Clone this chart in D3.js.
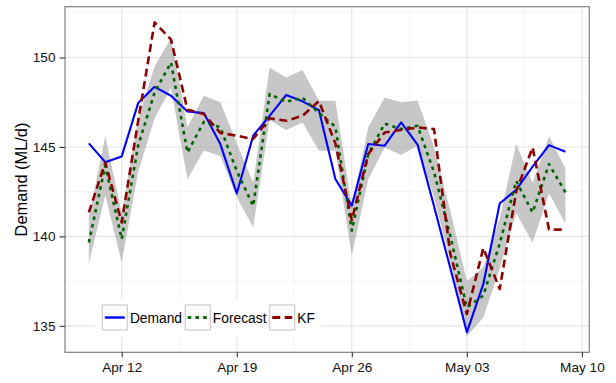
<!DOCTYPE html>
<html>
<head>
<meta charset="utf-8">
<script src="https://cdn.jsdelivr.net/npm/d3@7"></script>
<style>
  html, body { margin: 0; padding: 0; background: #fff; }
  svg { display: block; font-family: "Liberation Sans", Arial, Helvetica, sans-serif; }
</style>
</head>
<body>
<svg id="chart" width="616" height="383"></svg>
<script>
// Daily water demand (ML/d), 10 Apr – 9 May
const startDay = "2013-04-10";
const endDay = "2013-05-10"; // exclusive

const demand = [145.2, 144.15, 144.47, 147.45, 148.36, 147.86, 146.98, 146.89, 145.16, 142.4,
  145.63, 146.74, 147.9, 147.55, 147.06, 143.21, 141.72, 145.16, 145.07, 146.37,
  145.13, 141.7, 138.2, 134.64, 137.33, 141.84, 142.6, 143.9, 145.1, 144.73];

const forecast = [139.66, 143.95, 139.85, 145.07, 148.04, 149.72, 144.69, 146.4, 146.1, 143.66,
  141.7, 147.96, 147.52, 147.75, 146.9, 146.13, 140.32, 144.6, 146.3, 146.0,
  146.18, 143.6, 140.0, 136.03, 136.69, 139.6, 143.1, 141.34, 144.04, 142.46];

const forecastUpper = [141.0, 145.62, 141.3, 146.6, 149.5, 151.1, 146.1, 147.86, 147.5, 145.2,
  143.0, 149.44, 148.88, 149.3, 147.58, 147.58, 141.7, 146.1, 147.77, 147.5,
  147.6, 145.0, 141.4, 137.5, 138.27, 141.0, 145.16, 143.0, 145.6, 143.8];

const forecastLower = [138.49, 142.3, 138.55, 143.6, 146.6, 148.3, 143.2, 144.8, 144.5, 142.2,
  140.5, 146.5, 145.94, 146.37, 144.79, 144.79, 138.92, 143.2, 144.97, 144.55,
  145.07, 142.2, 138.6, 134.4, 135.47, 138.2, 141.3, 139.66, 142.4, 140.7];

const kf = [141.34, 144.13, 140.78, 146.45, 151.96, 151.0, 147.08, 146.84, 145.78, 145.63,
  145.44, 146.6, 146.46, 146.74, 147.56, 145.2, 140.9, 144.6, 145.81, 145.95,
  146.09, 146.0, 139.0, 135.66, 139.35, 137.06, 142.5, 144.97, 140.38, 140.38];

const yTicks = [135, 140, 145, 150];
const yMinor = [137.5, 142.5, 147.5, 152.5];
const xTickDays = ["2013-04-12", "2013-04-19", "2013-04-26", "2013-05-03", "2013-05-10"];
const xMinorDays = ["2013-04-15T12:00", "2013-04-22T12:00", "2013-04-29T12:00", "2013-05-06T12:00"];

const seriesNames = ["Demand", "Forecast", "KF"];
const seriesColors = ["#0000ff", "#006400", "#8b0000"];
const seriesDash = [null, "3.5,4.2", "8,4.5"];
const seriesWidth = [2.1, 2.6, 2.6];

const parseDay = s => new Date(s + (s.length === 10 ? "T00:00Z" : "Z"));
const days = d3.utcDay.range(parseDay(startDay), parseDay(endDay));

const rows = days.map((d, i) => ({
  date: d,
  demand: demand[i],
  forecast: forecast[i],
  upper: forecastUpper[i],
  lower: forecastLower[i],
  kf: kf[i]
}));

const W = 616, H = 383;
const margin = { left: 65, top: 6.7, right: 26.7, bottom: 30.7 };
const iw = W - margin.left - margin.right;
const ih = H - margin.top - margin.bottom;

const svg = d3.select("#chart");
const g = svg.append("g").attr("transform", `translate(${margin.left},${margin.top})`);

// 5% padding on each side of the data range
function padded(lo, hi) {
  const p = (hi - lo) * 0.05;
  return [lo - p, hi + p];
}
const t0 = days[0].getTime(), t1 = days[days.length - 1].getTime();
const xDom = padded(t0, t1).map(t => new Date(t));
const allY = demand.concat(forecast, forecastUpper, forecastLower, kf);
const yDom = padded(d3.min(allY), d3.max(allY));

const x = d3.scaleUtc().domain(xDom).range([0, iw]);
const y = d3.scaleLinear().domain(yDom).range([ih, 0]);

// panel background + grid
g.append("rect").attr("width", iw).attr("height", ih).attr("fill", "#fff");

const grid = g.append("g");
grid.selectAll(".ymin").data(yMinor.filter(v => v > yDom[0] && v < yDom[1])).join("line")
  .attr("x1", 0).attr("x2", iw).attr("y1", d => y(d)).attr("y2", d => y(d))
  .attr("stroke", "#f4f4f4").attr("stroke-width", 1);
grid.selectAll(".xmin").data(xMinorDays.map(parseDay)).join("line")
  .attr("y1", 0).attr("y2", ih).attr("x1", d => x(d)).attr("x2", d => x(d))
  .attr("stroke", "#f4f4f4").attr("stroke-width", 1);
grid.selectAll(".ymaj").data(yTicks).join("line")
  .attr("x1", 0).attr("x2", iw).attr("y1", d => y(d)).attr("y2", d => y(d))
  .attr("stroke", "#e4e4e4").attr("stroke-width", 1.1);
grid.selectAll(".xmaj").data(xTickDays.map(parseDay)).join("line")
  .attr("y1", 0).attr("y2", ih).attr("x1", d => x(d)).attr("x2", d => x(d))
  .attr("stroke", "#e4e4e4").attr("stroke-width", 1.1);

// forecast interval ribbon
const area = d3.area()
  .x(d => x(d.date))
  .y0(d => y(d.lower))
  .y1(d => y(d.upper));
g.append("path").datum(rows)
  .attr("d", area)
  .attr("fill", "#999999")
  .attr("fill-opacity", 0.55);

// series lines
const keys = ["demand", "forecast", "kf"];
keys.forEach((k, i) => {
  const line = d3.line().x(d => x(d.date)).y(d => y(d[k]));
  g.append("path").datum(rows)
    .attr("d", line)
    .attr("fill", "none")
    .attr("stroke", seriesColors[i])
    .attr("stroke-width", seriesWidth[i])
    .attr("stroke-dasharray", seriesDash[i])
    .attr("stroke-linejoin", "round");
});

// legend inside the panel
const legend = svg.append("g");
const legBox = legend.append("rect")
  .attr("x", 95).attr("y", 300).attr("height", 37).attr("fill", "#fff");
let lx = 102.3;
const keyY = 305, keySize = 25;
seriesNames.forEach((name, i) => {
  legend.append("rect")
    .attr("x", lx).attr("y", keyY).attr("width", keySize).attr("height", keySize)
    .attr("fill", "#fff").attr("stroke", "#cccccc").attr("stroke-width", 1.2);
  legend.append("line")
    .attr("x1", lx + 2.5).attr("x2", lx + keySize - 2.5)
    .attr("y1", keyY + keySize / 2).attr("y2", keyY + keySize / 2)
    .attr("stroke", seriesColors[i])
    .attr("stroke-width", seriesWidth[i] + 0.3)
    .attr("stroke-dasharray", seriesDash[i]);
  const t = legend.append("text")
    .attr("x", lx + keySize + 2.6).attr("y", keyY + keySize / 2 + 5)
    .attr("font-size", 13.8).attr("fill", "#000")
    .text(name);
  lx = lx + keySize + 2.6 + t.node().getComputedTextLength() + 3.2;
});
legBox.attr("width", lx + 2 - 95);

// panel border
g.append("rect").attr("width", iw).attr("height", ih)
  .attr("fill", "none").attr("stroke", "#7f7f7f").attr("stroke-width", 1.2);

// axes
const yAxis = d3.axisLeft(y).tickValues(yTicks).tickSize(5.5).tickSizeOuter(0).tickPadding(4);
const gy = g.append("g").call(yAxis);
gy.select(".domain").remove();
gy.selectAll("line").attr("stroke", "#333").attr("stroke-width", 1.1);
gy.selectAll("text").attr("font-size", 13.6).attr("fill", "#111")
  .attr("font-family", "Liberation Sans, Arial, sans-serif");

const fmt = d3.utcFormat("%b %d");
const xAxis = d3.axisBottom(x).tickValues(xTickDays.map(parseDay)).tickFormat(fmt)
  .tickSize(5).tickSizeOuter(0).tickPadding(5.5);
const gx = g.append("g").attr("transform", `translate(0,${ih})`).call(xAxis);
gx.select(".domain").remove();
gx.selectAll("line").attr("stroke", "#333").attr("stroke-width", 1.1);
gx.selectAll("text").attr("font-size", 13.6).attr("fill", "#111")
  .attr("font-family", "Liberation Sans, Arial, sans-serif");

// y-axis title
svg.append("text")
  .attr("transform", `translate(26.5,${margin.top + ih / 2}) rotate(-90)`)
  .attr("text-anchor", "middle")
  .attr("font-size", 16.4).attr("fill", "#000")
  .text("Demand (ML/d)");
</script>
</body>
</html>
